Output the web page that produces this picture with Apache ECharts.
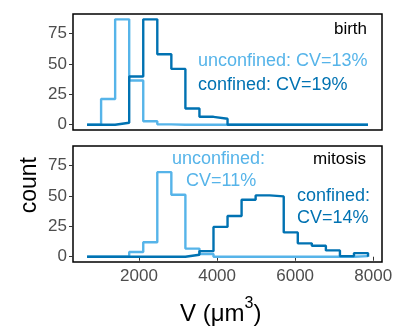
<!DOCTYPE html>
<html><head><meta charset="utf-8">
<script src="https://cdn.jsdelivr.net/npm/echarts@6/dist/echarts.min.js"></script>
<style>html,body{margin:0;padding:0;background:#fff}#c{width:396px;height:333px}</style>
</head><body><div id="c"></div>
<script>
const binEdges = [668,1028,1388,1748,2108,2468,2828,3188,3548,3908,4268,4628,4988,5348,5708,6068,6428,6788,7148,7508,7868];
const birthUnconfined = [0,21.2,86.6,36.4,2.9,0.3,0,0,0,0,0,0,0,0,0,0,0,0,0,0];
const birthConfined   = [0,0,1.6,39.6,86.6,57.9,45.9,13.3,6.5,4.9,0,0,0,0,0,0,0,0,0,0];
const mitosisUnconfined = [0,0,0,3.9,11.9,69.5,50.9,6.7,2.3,0,0,0,0,0,0,0,0,0,0,0.5];
const mitosisConfined   = [0,0,0,0,0,0,0,1.6,4.6,24.5,33.5,46.8,50.4,49.6,20,11,9,5.2,0.5,3];
const xTicks = [2000,4000,6000,8000];
const yTicks = [0,25,50,75];
const panelLabels = ['birth','mitosis'];
const cLight = '#56B4E9', cDark = '#0072B2';
const FONT = 'Liberation Sans';

function stepData(counts){
  const d = [[binEdges[0],0]];
  counts.forEach((c,i)=>d.push([binEdges[i],c]));
  d.push([binEdges[binEdges.length-1],counts[counts.length-1]]);
  d.push([binEdges[binEdges.length-1],0]);
  return d;
}
const chart = echarts.init(document.getElementById('c'));
const grids = [
  {left:73,right:14,top:14,height:116,show:true,borderColor:'#000',borderWidth:1.5,backgroundColor:'transparent'},
  {left:73,right:14,top:146,height:116,show:true,borderColor:'#000',borderWidth:1.5,backgroundColor:'transparent'}
];
function xAx(i,showLabels){
  return {type:'value',gridIndex:i,min:308,max:8226,splitLine:{show:false},
    axisLine:{show:false},
    axisTick:{show:showLabels,length:4,lineStyle:{color:'#333',width:1},customValues:xTicks},
    axisLabel:{show:showLabels,customValues:xTicks,formatter:v=>String(v),color:'#4d4d4d',fontFamily:FONT,fontSize:17,margin:6}};
}
function yAx(i){
  return {type:'value',gridIndex:i,min:-4.33,max:91,splitLine:{show:false},
    axisLine:{show:false},
    axisTick:{show:true,length:4,lineStyle:{color:'#333',width:1},customValues:yTicks},
    axisLabel:{customValues:yTicks,formatter:v=>String(v),color:'#4d4d4d',fontFamily:FONT,fontSize:17,margin:6}};
}
function ser(i,counts,color,z){
  return {type:'line',xAxisIndex:i,yAxisIndex:i,step:'end',data:stepData(counts),showSymbol:false,symbol:'none',
    lineStyle:{color:color,width:2.4},z:z,animation:false};
}
chart.setOption({
  animation:false,
  grid:grids,
  xAxis:[xAx(0,false),xAx(1,true)],
  yAxis:[yAx(0),yAx(1)],
  series:[ser(0,birthUnconfined,cLight,2),ser(0,birthConfined,cDark,3),
          ser(1,mitosisUnconfined,cLight,2),ser(1,mitosisConfined,cDark,3)],
  graphic:[
    {type:'text',right:29,top:21,style:{text:panelLabels[0],fill:'#000',font:'17px '+FONT}},
    {type:'text',left:198,top:52,style:{text:'unconfined: CV=13%',fill:cLight,font:'18px '+FONT}},
    {type:'text',left:198,top:76,style:{text:'confined: CV=19%',fill:cDark,font:'18px '+FONT}},
    {type:'text',right:30,top:151,style:{text:panelLabels[1],fill:'#000',font:'17px '+FONT}},
    {type:'text',left:172,top:150,style:{text:'unconfined:',fill:cLight,font:'18px '+FONT}},
    {type:'text',left:186,top:172,style:{text:'CV=11%',fill:cLight,font:'18px '+FONT}},
    {type:'text',left:297,top:187,style:{text:'confined:',fill:cDark,font:'18px '+FONT}},
    {type:'text',left:297,top:209,style:{text:'CV=14%',fill:cDark,font:'18px '+FONT}},
    {type:'text',left:18,top:157,rotation:Math.PI/2,style:{text:'count',fill:'#000',font:'23px '+FONT,align:'center',verticalAlign:'middle'}},
    {type:'text',left:180,top:296,style:{text:'{a|V (μm}{s|3}{a|)}',
      rich:{a:{fontSize:24,fontFamily:FONT,fill:'#000',color:'#000',lineHeight:30,verticalAlign:'bottom'},
            s:{fontSize:16,fontFamily:FONT,fill:'#000',color:'#000',lineHeight:30,verticalAlign:'top'}}}}
  ]
});
</script></body></html>
